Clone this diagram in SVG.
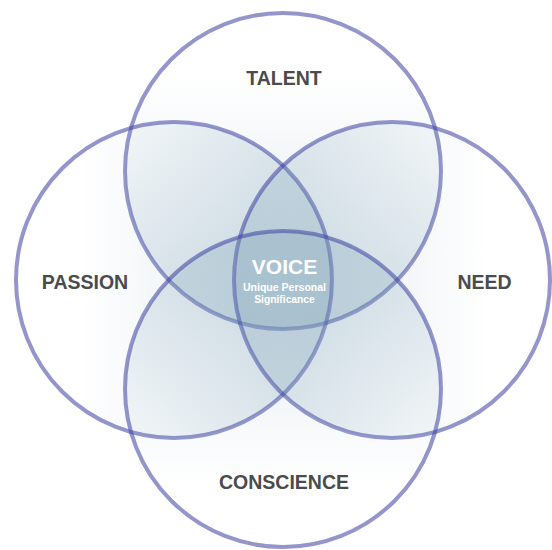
<svg xmlns="http://www.w3.org/2000/svg" width="552" height="550" viewBox="0 0 552 550">
  <defs>
    <!-- each circle stays white on its outer side and tints toward the middle -->
    <linearGradient id="gTop" x1="0.5" y1="0" x2="0.5" y2="1">
      <stop offset="0" stop-color="#7fa3b8" stop-opacity="0"/>
      <stop offset="0.2" stop-color="#7fa3b8" stop-opacity="0"/>
      <stop offset="0.45" stop-color="#7fa3b8" stop-opacity="0.09"/>
      <stop offset="1" stop-color="#7fa3b8" stop-opacity="0.3"/>
    </linearGradient>
    <linearGradient id="gBottom" x1="0.5" y1="1" x2="0.5" y2="0">
      <stop offset="0" stop-color="#7fa3b8" stop-opacity="0"/>
      <stop offset="0.2" stop-color="#7fa3b8" stop-opacity="0"/>
      <stop offset="0.45" stop-color="#7fa3b8" stop-opacity="0.09"/>
      <stop offset="1" stop-color="#7fa3b8" stop-opacity="0.3"/>
    </linearGradient>
    <linearGradient id="gLeft" x1="0" y1="0.5" x2="1" y2="0.5">
      <stop offset="0" stop-color="#7fa3b8" stop-opacity="0"/>
      <stop offset="0.2" stop-color="#7fa3b8" stop-opacity="0"/>
      <stop offset="0.45" stop-color="#7fa3b8" stop-opacity="0.09"/>
      <stop offset="1" stop-color="#7fa3b8" stop-opacity="0.3"/>
    </linearGradient>
    <linearGradient id="gRight" x1="1" y1="0.5" x2="0" y2="0.5">
      <stop offset="0" stop-color="#7fa3b8" stop-opacity="0"/>
      <stop offset="0.2" stop-color="#7fa3b8" stop-opacity="0"/>
      <stop offset="0.45" stop-color="#7fa3b8" stop-opacity="0.09"/>
      <stop offset="1" stop-color="#7fa3b8" stop-opacity="0.3"/>
    </linearGradient>
    <style>
      .ring { stroke: #3c40a0; stroke-opacity: 0.55; stroke-width: 4; }
      .label { font-family: "Liberation Sans", Arial, sans-serif; font-weight: bold; font-size: 19.5px; fill: #4b4b4d; text-anchor: middle; }
      .core { fill: #ffffff; text-anchor: middle; }
      .core-title { font-family: "Liberation Sans", Arial, sans-serif; font-weight: bold; font-size: 21px; }
      .core-sub { font-family: "Liberation Sans", Arial, sans-serif; font-weight: bold; font-size: 10.3px; }
    </style>
  </defs>

  <rect width="552" height="550" fill="#ffffff"/>

  <g id="talent">
    <circle class="ring" cx="283" cy="171" r="158" fill="url(#gTop)"/>
    <text class="label" x="284" y="84.5">TALENT</text>
  </g>
  <g id="passion">
    <circle class="ring" cx="174" cy="280" r="158" fill="url(#gLeft)"/>
    <text class="label" x="85" y="288.5">PASSION</text>
  </g>
  <g id="need">
    <circle class="ring" cx="392" cy="280" r="158" fill="url(#gRight)"/>
    <text class="label" x="484.5" y="288.5">NEED</text>
  </g>
  <g id="conscience">
    <circle class="ring" cx="283" cy="389" r="158" fill="url(#gBottom)"/>
    <text class="label" x="284" y="489.3">CONSCIENCE</text>
  </g>

  <g id="voice">
    <text class="core core-title" x="284.5" y="274">VOICE</text>
    <text class="core core-sub" x="284.5" y="291" textLength="83" lengthAdjust="spacingAndGlyphs">Unique Personal</text>
    <text class="core core-sub" x="284.5" y="302.7">Significance</text>
  </g>

  <g id="connectors"/>
</svg>
